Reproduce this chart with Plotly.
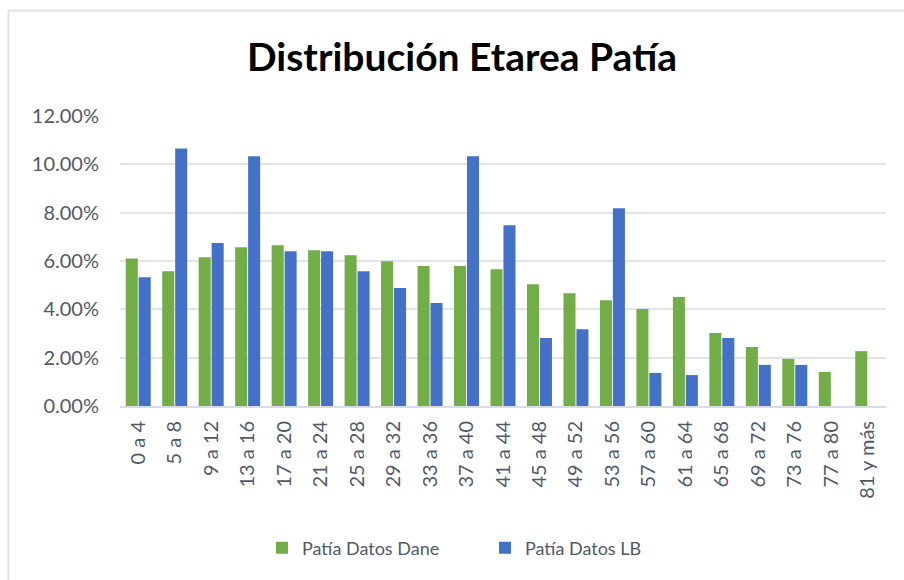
import plotly.graph_objects as go

categories = ["0 a 4", "5 a 8", "9 a 12", "13 a 16", "17 a 20", "21 a 24", "25 a 28",
              "29 a 32", "33 a 36", "37 a 40", "41 a 44", "45 a 48", "49 a 52", "53 a 56",
              "57 a 60", "61 a 64", "65 a 68", "69 a 72", "73 a 76", "77 a 80", "81 y más"]

dane = [0.0610, 0.0558, 0.0616, 0.0657, 0.0665, 0.0644, 0.0624, 0.0599, 0.0579, 0.0579,
        0.0566, 0.0504, 0.0467, 0.0438, 0.0401, 0.0451, 0.0302, 0.0244, 0.0195, 0.0141, 0.0227]

lb = [0.0533, 0.1066, 0.0674, 0.1033, 0.0640, 0.0640, 0.0558, 0.0488, 0.0426, 0.1033,
      0.0748, 0.0281, 0.0318, 0.0818, 0.0137, 0.0128, 0.0281, 0.0170, 0.0170, None, None]

y_ticks = [0, 0.02, 0.04, 0.06, 0.08, 0.10, 0.12]

TEXT = "#505A6B"
FONT = "Lato, 'Open Sans', sans-serif"

fig = go.Figure()
fig.add_trace(go.Bar(name="Patía Datos Dane", x=categories, y=dane,
                     marker=dict(color="#72AD47", line=dict(width=0))))
fig.add_trace(go.Bar(name="Patía Datos LB", x=categories, y=lb,
                     marker=dict(color="#4471C7", line=dict(width=0))))

L, R, T, B = 120, 886, 116, 406
W, H = R - L, B - T


def px_x(p):
    return (p - L) / W


def px_y(p):
    return (B - p) / H


fig.update_layout(
    width=904, height=580,
    margin=dict(l=L, r=904 - R, t=T, b=580 - B, autoexpand=False),
    paper_bgcolor="white", plot_bgcolor="white",
    barmode="group", bargap=0.29, bargroupgap=0.07,
    font=dict(family=FONT, color=TEXT, size=20),
    title=dict(text="<b>Distribución Etarea Patía</b>", x=462 / 904,
               xanchor="center", y=1 - 57 / 580, yanchor="middle",
               font=dict(family=FONT, size=39, color="#000000")),
    xaxis=dict(type="category", tickangle=-90, showgrid=False, showline=True,
               linecolor="#D9DCE2", linewidth=2, ticks="", ticklen=0,
               ticklabelstandoff=5,
               tickfont=dict(size=20, color=TEXT)),
    yaxis=dict(range=[0, 0.12], tickvals=y_ticks, tickformat=".2%", showgrid=True,
               gridcolor="#E1E4E9", gridwidth=2, zeroline=False, showline=False,
               ticks="", ticklabelstandoff=20, tickfont=dict(size=20, color=TEXT)),
    legend=dict(orientation="h", x=px_x(485), xanchor="center", y=px_y(548),
                yanchor="middle", font=dict(size=18, color=TEXT),
                itemwidth=30, entrywidth=178, traceorder="normal"),
    shapes=[
        dict(type="line", xref="paper", yref="paper", x0=px_x(8.5), x1=px_x(904),
             y0=px_y(10.5), y1=px_y(10.5), line=dict(color="#E0E3EA", width=2)),
        dict(type="line", xref="paper", yref="paper", x0=px_x(8.5), x1=px_x(8.5),
             y0=px_y(10.5), y1=px_y(580), line=dict(color="#E0E3EA", width=2)),
    ],
)

fig.write_html("out.html", config={"displayModeBar": False},
               post_script="document.body.style.margin='0px';")
